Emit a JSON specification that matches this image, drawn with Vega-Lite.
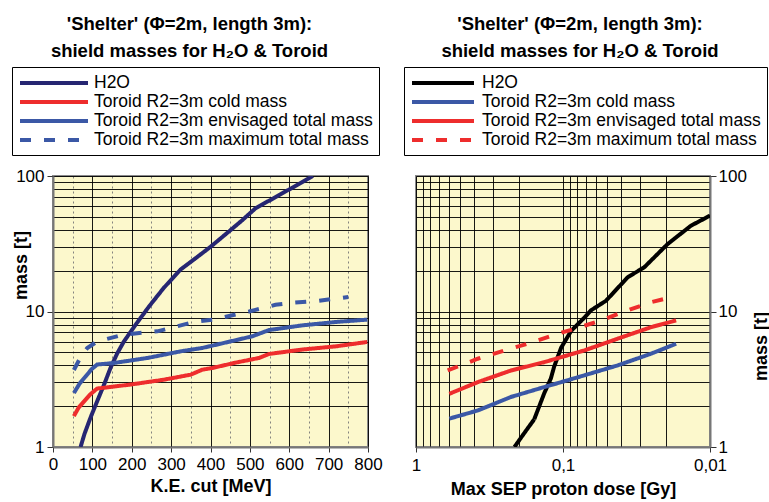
{
  "$schema": "https://vega.github.io/schema/vega-lite/v6.json",
  "background": "white",
  "padding": {"left": 10, "top": 14, "right": 0, "bottom": 4},
  "spacing": 18,
  "config": {
    "font": "Liberation Sans",
    "view": {"fill": "#fcf8cc", "stroke": "#8a8a8a", "strokeWidth": 2},
    "axis": {
      "labelFont": "Liberation Sans", "labelFontSize": 17, "labelColor": "black",
      "titleFont": "Liberation Sans", "titleFontSize": 18, "titleFontWeight": "bold", "titleColor": "black",
      "gridColor": "black", "gridOpacity": 0.9, "gridWidth": 1,
      "domainColor": "#777777", "domainWidth": 2, "tickColor": "#333333",
      "labelFlush": false, "labelOverlap": false
    },
    "legend": {
      "labelFont": "Liberation Sans", "labelFontSize": 17.5, "labelColor": "black", "labelLimit": 500
    },
    "title": {"font": "Liberation Sans", "fontSize": 18.5, "fontWeight": "bold", "color": "black"}
  },
  "resolve": {"scale": {"x": "independent", "y": "independent", "color": "independent", "strokeDash": "independent"}},
  "hconcat": [
    {
      "width": 315,
      "height": 271,
      "title": {"text": ["'Shelter' (Φ=2m, length 3m):", "shield masses for H₂O & Toroid"], "anchor": "middle", "frame": "group", "lineHeight": 27, "offset": 6, "dx": -21},
      "data": {"values": [
        {"s": "H2O", "x": 70, "m": 1.0}, {"s": "H2O", "x": 80, "m": 1.25}, {"s": "H2O", "x": 95, "m": 1.64},
        {"s": "H2O", "x": 112, "m": 2.17}, {"s": "H2O", "x": 130, "m": 2.9}, {"s": "H2O", "x": 146, "m": 3.83},
        {"s": "H2O", "x": 163, "m": 4.9}, {"s": "H2O", "x": 180, "m": 6.0}, {"s": "H2O", "x": 210, "m": 8.0},
        {"s": "H2O", "x": 244, "m": 10.9}, {"s": "H2O", "x": 281, "m": 14.9},
        {"s": "H2O", "x": 324, "m": 20.4}, {"s": "H2O", "x": 358, "m": 24.2}, {"s": "H2O", "x": 400, "m": 30},
        {"s": "H2O", "x": 447, "m": 39}, {"s": "H2O", "x": 480, "m": 47}, {"s": "H2O", "x": 515, "m": 58},
        {"s": "H2O", "x": 550, "m": 66}, {"s": "H2O", "x": 591, "m": 77}, {"s": "H2O", "x": 630, "m": 89},
        {"s": "H2O", "x": 660, "m": 100},
        {"s": "Toroid R2=3m cold mass", "x": 53, "m": 1.69}, {"s": "Toroid R2=3m cold mass", "x": 65, "m": 1.95},
        {"s": "Toroid R2=3m cold mass", "x": 79, "m": 2.17}, {"s": "Toroid R2=3m cold mass", "x": 95, "m": 2.45},
        {"s": "Toroid R2=3m cold mass", "x": 112, "m": 2.7}, {"s": "Toroid R2=3m cold mass", "x": 197, "m": 2.89},
        {"s": "Toroid R2=3m cold mass", "x": 282, "m": 3.14}, {"s": "Toroid R2=3m cold mass", "x": 350, "m": 3.42},
        {"s": "Toroid R2=3m cold mass", "x": 379, "m": 3.72}, {"s": "Toroid R2=3m cold mass", "x": 405, "m": 3.83},
        {"s": "Toroid R2=3m cold mass", "x": 465, "m": 4.2}, {"s": "Toroid R2=3m cold mass", "x": 523, "m": 4.54},
        {"s": "Toroid R2=3m cold mass", "x": 549, "m": 4.86}, {"s": "Toroid R2=3m cold mass", "x": 633, "m": 5.24},
        {"s": "Toroid R2=3m cold mass", "x": 718, "m": 5.53}, {"s": "Toroid R2=3m cold mass", "x": 798, "m": 5.96},
        {"s": "Toroid R2=3m envisaged total mass", "x": 53, "m": 2.5}, {"s": "Toroid R2=3m envisaged total mass", "x": 68, "m": 2.95},
        {"s": "Toroid R2=3m envisaged total mass", "x": 83, "m": 3.32}, {"s": "Toroid R2=3m envisaged total mass", "x": 98, "m": 3.75},
        {"s": "Toroid R2=3m envisaged total mass", "x": 112, "m": 4.06}, {"s": "Toroid R2=3m envisaged total mass", "x": 155, "m": 4.17},
        {"s": "Toroid R2=3m envisaged total mass", "x": 240, "m": 4.54}, {"s": "Toroid R2=3m envisaged total mass", "x": 324, "m": 5.08},
        {"s": "Toroid R2=3m envisaged total mass", "x": 379, "m": 5.38}, {"s": "Toroid R2=3m envisaged total mass", "x": 405, "m": 5.6},
        {"s": "Toroid R2=3m envisaged total mass", "x": 506, "m": 6.56}, {"s": "Toroid R2=3m envisaged total mass", "x": 549, "m": 7.3},
        {"s": "Toroid R2=3m envisaged total mass", "x": 633, "m": 7.9}, {"s": "Toroid R2=3m envisaged total mass", "x": 718, "m": 8.37},
        {"s": "Toroid R2=3m envisaged total mass", "x": 798, "m": 8.71},
        {"s": "Toroid R2=3m maximum total mass", "x": 53, "m": 3.7}, {"s": "Toroid R2=3m maximum total mass", "x": 70, "m": 4.6},
        {"s": "Toroid R2=3m maximum total mass", "x": 87, "m": 5.38}, {"s": "Toroid R2=3m maximum total mass", "x": 112, "m": 6.0},
        {"s": "Toroid R2=3m maximum total mass", "x": 180, "m": 6.76}, {"s": "Toroid R2=3m maximum total mass", "x": 265, "m": 7.14},
        {"s": "Toroid R2=3m maximum total mass", "x": 358, "m": 8.37}, {"s": "Toroid R2=3m maximum total mass", "x": 405, "m": 8.7},
        {"s": "Toroid R2=3m maximum total mass", "x": 498, "m": 10.0}, {"s": "Toroid R2=3m maximum total mass", "x": 565, "m": 11.2},
        {"s": "Toroid R2=3m maximum total mass", "x": 608, "m": 11.6}, {"s": "Toroid R2=3m maximum total mass", "x": 676, "m": 12.0},
        {"s": "Toroid R2=3m maximum total mass", "x": 750, "m": 12.8}
      ]},
      "mark": {"type": "line", "strokeWidth": 4, "clip": true},
      "encoding": {
        "x": {
          "field": "x", "type": "quantitative",
          "scale": {"domain": [0, 800], "nice": false},
          "axis": {
            "title": "K.E. cut [MeV]",
            "values": [0, 50, 100, 150, 200, 250, 300, 350, 400, 450, 500, 550, 600, 650, 700, 750, 800],
            "labelExpr": "datum.value % 100 == 0 ? datum.label : ''",
            "gridDash": {"condition": {"test": "datum.value % 100 != 0", "value": [2, 3]}, "value": []},
            "gridColor": {"condition": {"test": "datum.value % 100 != 0", "value": "#777777"}, "value": "black"},
            "tickOpacity": {"condition": {"test": "datum.value % 100 != 0", "value": 0}, "value": 1},
            "tickSize": 5, "labelPadding": 4, "titlePadding": 5
          }
        },
        "y": {
          "field": "m", "type": "quantitative",
          "scale": {"type": "log", "domain": [1, 100], "nice": false},
          "axis": {
            "title": "mass [t]",
            "values": [1, 2, 3, 4, 5, 6, 7, 8, 9, 10, 20, 30, 40, 50, 60, 70, 80, 90, 100],
            "labelExpr": "datum.value == 1 ? '1' : datum.value == 10 ? '10' : datum.value == 100 ? '100' : ''",
            "tickOpacity": {"condition": {"test": "datum.value == 1 || datum.value == 10 || datum.value == 100", "value": 1}, "value": 0},
            "tickSize": 6, "labelPadding": 3,
            "titleX": -32, "titleY": 89, "titleAngle": 270, "titleAlign": "center", "titleBaseline": "middle"
          }
        },
        "color": {
          "field": "s", "type": "nominal",
          "scale": {"domain": ["H2O", "Toroid R2=3m cold mass", "Toroid R2=3m envisaged total mass", "Toroid R2=3m maximum total mass"],
                    "range": ["#262672", "#ee2d2d", "#3b58a6", "#3b58a6"]},
          "legend": {"title": null, "orient": "none", "legendX": -41, "legendY": -109, "symbolType": "M-1,0H7.5", "symbolSize": 256,
                     "symbolStrokeWidth": 4, "strokeColor": "black", "fillColor": "white", "padding": 6, "rowPadding": -1, "labelOffset": 56}
        },
        "strokeDash": {
          "field": "s", "type": "nominal",
          "scale": {"domain": ["H2O", "Toroid R2=3m cold mass", "Toroid R2=3m envisaged total mass", "Toroid R2=3m maximum total mass"],
                    "range": [[1, 0], [1, 0], [1, 0], [11, 13]]},
          "legend": {"title": null, "orient": "none", "legendX": -41, "legendY": -109, "symbolType": "M-1,0H7.5", "symbolSize": 256,
                     "symbolStrokeWidth": 4, "strokeColor": "black", "fillColor": "white", "padding": 6, "rowPadding": -1, "labelOffset": 56}
        }
      }
    },
    {
      "width": 294,
      "height": 271,
      "title": {"text": ["'Shelter' (Φ=2m, length 3m):", "shield masses for H₂O & Toroid"], "anchor": "middle", "frame": "group", "lineHeight": 27, "offset": 6, "dx": 17},
      "data": {"values": [
        {"s": "H2O", "x": 0.214, "m": 1.0}, {"s": "H2O", "x": 0.185, "m": 1.25}, {"s": "H2O", "x": 0.157, "m": 1.6},
        {"s": "H2O", "x": 0.134, "m": 2.5}, {"s": "H2O", "x": 0.121, "m": 3.2}, {"s": "H2O", "x": 0.115, "m": 3.9},
        {"s": "H2O", "x": 0.103, "m": 5.4}, {"s": "H2O", "x": 0.088, "m": 7.2}, {"s": "H2O", "x": 0.0716, "m": 9.0},
        {"s": "H2O", "x": 0.0645, "m": 10.2}, {"s": "H2O", "x": 0.051, "m": 12.0}, {"s": "H2O", "x": 0.0363, "m": 17.9},
        {"s": "H2O", "x": 0.028, "m": 21.2}, {"s": "H2O", "x": 0.0194, "m": 31.5}, {"s": "H2O", "x": 0.01346, "m": 43},
        {"s": "H2O", "x": 0.01, "m": 51},
        {"s": "Toroid R2=3m cold mass", "x": 0.593, "m": 1.62}, {"s": "Toroid R2=3m cold mass", "x": 0.38, "m": 1.86},
        {"s": "Toroid R2=3m cold mass", "x": 0.226, "m": 2.34}, {"s": "Toroid R2=3m cold mass", "x": 0.134, "m": 2.77},
        {"s": "Toroid R2=3m cold mass", "x": 0.103, "m": 3.01}, {"s": "Toroid R2=3m cold mass", "x": 0.0716, "m": 3.38},
        {"s": "Toroid R2=3m cold mass", "x": 0.0425, "m": 4.0}, {"s": "Toroid R2=3m cold mass", "x": 0.0252, "m": 4.88},
        {"s": "Toroid R2=3m cold mass", "x": 0.017, "m": 5.78},
        {"s": "Toroid R2=3m envisaged total mass", "x": 0.593, "m": 2.47}, {"s": "Toroid R2=3m envisaged total mass", "x": 0.38, "m": 3.01},
        {"s": "Toroid R2=3m envisaged total mass", "x": 0.226, "m": 3.67}, {"s": "Toroid R2=3m envisaged total mass", "x": 0.134, "m": 4.23},
        {"s": "Toroid R2=3m envisaged total mass", "x": 0.103, "m": 4.6}, {"s": "Toroid R2=3m envisaged total mass", "x": 0.0716, "m": 5.16},
        {"s": "Toroid R2=3m envisaged total mass", "x": 0.0425, "m": 6.3}, {"s": "Toroid R2=3m envisaged total mass", "x": 0.0252, "m": 7.66},
        {"s": "Toroid R2=3m envisaged total mass", "x": 0.017, "m": 8.6},
        {"s": "Toroid R2=3m maximum total mass", "x": 0.609, "m": 3.67}, {"s": "Toroid R2=3m maximum total mass", "x": 0.38, "m": 4.48},
        {"s": "Toroid R2=3m maximum total mass", "x": 0.25, "m": 5.16}, {"s": "Toroid R2=3m maximum total mass", "x": 0.174, "m": 5.78},
        {"s": "Toroid R2=3m maximum total mass", "x": 0.109, "m": 6.85}, {"s": "Toroid R2=3m maximum total mass", "x": 0.083, "m": 7.45},
        {"s": "Toroid R2=3m maximum total mass", "x": 0.055, "m": 8.6}, {"s": "Toroid R2=3m maximum total mass", "x": 0.0363, "m": 10.2},
        {"s": "Toroid R2=3m maximum total mass", "x": 0.0252, "m": 11.7}, {"s": "Toroid R2=3m maximum total mass", "x": 0.0175, "m": 12.9}
      ]},
      "mark": {"type": "line", "strokeWidth": 4, "clip": true},
      "encoding": {
        "x": {
          "field": "x", "type": "quantitative",
          "scale": {"type": "log", "domain": [0.01, 1], "nice": false, "reverse": true},
          "axis": {
            "title": "Max SEP proton dose [Gy]",
            "values": [1, 0.9, 0.8, 0.7, 0.6, 0.5, 0.4, 0.3, 0.2, 0.1, 0.09, 0.08, 0.07, 0.06, 0.05, 0.04, 0.03, 0.02, 0.01],
            "labelExpr": "datum.value == 1 ? '1' : datum.value == 0.1 ? '0,1' : datum.value == 0.01 ? '0,01' : ''",
            "tickOpacity": {"condition": {"test": "datum.value == 1 || datum.value == 0.1 || datum.value == 0.01", "value": 1}, "value": 0},
            "tickSize": 5, "labelPadding": 5, "titlePadding": 7
          }
        },
        "y": {
          "field": "m", "type": "quantitative",
          "scale": {"type": "log", "domain": [1, 100], "nice": false},
          "axis": {
            "orient": "right",
            "title": "mass [t]",
            "values": [1, 2, 3, 4, 5, 6, 7, 8, 9, 10, 20, 30, 40, 50, 60, 70, 80, 90, 100],
            "labelExpr": "datum.value == 1 ? '1' : datum.value == 10 ? '10' : datum.value == 100 ? '100' : ''",
            "tickOpacity": {"condition": {"test": "datum.value == 1 || datum.value == 10 || datum.value == 100", "value": 1}, "value": 0},
            "tickSize": 6, "labelPadding": 2,
            "titleX": 51, "titleY": 170, "titleAngle": 270, "titleAlign": "center", "titleBaseline": "middle"
          }
        },
        "color": {
          "field": "s", "type": "nominal",
          "scale": {"domain": ["H2O", "Toroid R2=3m cold mass", "Toroid R2=3m envisaged total mass", "Toroid R2=3m maximum total mass"],
                    "range": ["#000000", "#3b58a6", "#ee2d2d", "#ee2d2d"]},
          "legend": {"title": null, "orient": "none", "legendX": -12, "legendY": -109, "symbolType": "M-1,0H6.75", "symbolSize": 256,
                     "symbolStrokeWidth": 4, "strokeColor": "black", "fillColor": "white", "padding": 6, "rowPadding": -1, "labelOffset": 52}
        },
        "strokeDash": {
          "field": "s", "type": "nominal",
          "scale": {"domain": ["H2O", "Toroid R2=3m cold mass", "Toroid R2=3m envisaged total mass", "Toroid R2=3m maximum total mass"],
                    "range": [[1, 0], [1, 0], [1, 0], [11, 13]]},
          "legend": {"title": null, "orient": "none", "legendX": -12, "legendY": -109, "symbolType": "M-1,0H6.75", "symbolSize": 256,
                     "symbolStrokeWidth": 4, "strokeColor": "black", "fillColor": "white", "padding": 6, "rowPadding": -1, "labelOffset": 52}
        }
      }
    }
  ]
}
